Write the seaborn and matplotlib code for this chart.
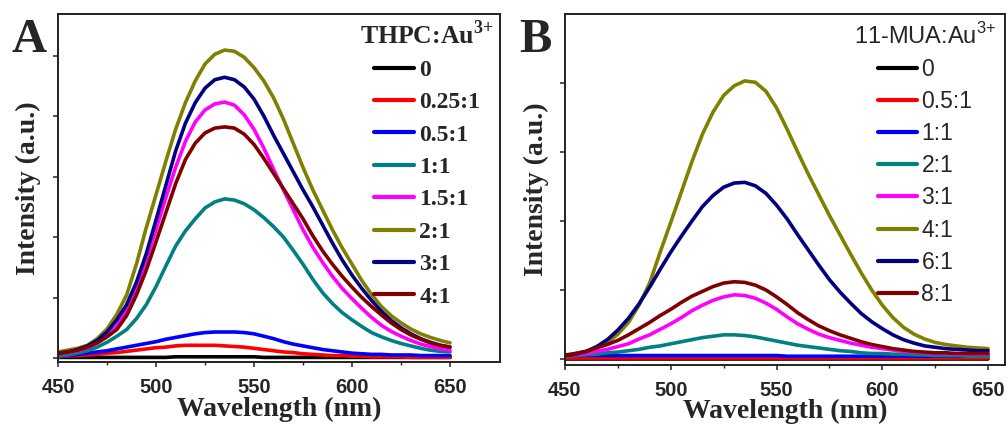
import matplotlib
matplotlib.use('Agg')
import matplotlib.pyplot as plt
import numpy as np
import seaborn as sns
import pandas as pd

# wavelength grid (nm)
wavelength = [450, 455, 460, 465, 470, 475, 480, 485, 490, 495, 500,
              505, 510, 515, 520, 525, 530, 535, 540, 545, 550,
              555, 560, 565, 570, 575, 580, 585, 590, 595, 600,
              605, 610, 615, 620, 625, 630, 635, 640, 645, 650]

# panel A: THPC:Au3+ (tick spacing = 1)
labels_a = ['0', '0.25:1', '0.5:1', '1:1', '1.5:1', '2:1', '3:1', '4:1']
a_0 = [0.01, 0.01, 0.01, 0.01, 0.01, 0.01, 0.01, 0.01, 0.01, 0.01, 0.01,
       0.01, 0.02, 0.02, 0.02, 0.02, 0.02, 0.02, 0.02, 0.02, 0.02,
       0.01, 0.01, 0.01, 0.01, 0.01, 0.01, 0.01, 0.01, 0.01, 0.01,
       0.01, 0.01, 0.01, 0.01, 0.01, 0.01, 0.01, 0.01, 0.01, 0.01]
a_025 = [0.02, 0.03, 0.04, 0.05, 0.06, 0.08, 0.09, 0.11, 0.13, 0.15, 0.17,
         0.18, 0.20, 0.21, 0.21, 0.21, 0.21, 0.20, 0.19, 0.18, 0.16,
         0.14, 0.12, 0.10, 0.09, 0.07, 0.06, 0.05, 0.04, 0.04, 0.03,
         0.03, 0.02, 0.02, 0.02, 0.02, 0.01, 0.01, 0.01, 0.01, 0.01]
a_05 = [0.03, 0.04, 0.06, 0.08, 0.10, 0.12, 0.15, 0.18, 0.21, 0.24, 0.27,
        0.31, 0.34, 0.37, 0.40, 0.42, 0.43, 0.43, 0.43, 0.42, 0.40,
        0.36, 0.32, 0.27, 0.23, 0.20, 0.17, 0.14, 0.12, 0.10, 0.08,
        0.07, 0.06, 0.06, 0.05, 0.05, 0.05, 0.04, 0.04, 0.04, 0.04]
a_1 = [0.03, 0.05, 0.08, 0.12, 0.18, 0.26, 0.36, 0.47, 0.65, 0.88, 1.18,
       1.52, 1.85, 2.10, 2.30, 2.48, 2.58, 2.63, 2.61, 2.55, 2.45,
       2.32, 2.17, 2.00, 1.78, 1.55, 1.30, 1.08, 0.90, 0.75, 0.63,
       0.52, 0.42, 0.35, 0.29, 0.24, 0.20, 0.16, 0.13, 0.11, 0.10]
a_15 = [0.07, 0.09, 0.12, 0.17, 0.25, 0.36, 0.53, 0.80, 1.17, 1.62, 2.12,
        2.65, 3.15, 3.58, 3.90, 4.10, 4.20, 4.23, 4.18, 4.02, 3.78,
        3.47, 3.12, 2.78, 2.45, 2.12, 1.83, 1.58, 1.35, 1.15, 0.98,
        0.82, 0.67, 0.54, 0.44, 0.36, 0.29, 0.23, 0.19, 0.15, 0.13]
a_2 = [0.10, 0.13, 0.16, 0.21, 0.32, 0.48, 0.72, 1.04, 1.55, 2.15, 2.70,
       3.25, 3.78, 4.22, 4.58, 4.86, 5.02, 5.09, 5.07, 4.97, 4.80,
       4.58, 4.30, 3.95, 3.55, 3.15, 2.78, 2.45, 2.12, 1.82, 1.55,
       1.28, 1.05, 0.85, 0.70, 0.58, 0.48, 0.40, 0.34, 0.29, 0.25]
a_3 = [0.08, 0.10, 0.14, 0.20, 0.29, 0.43, 0.63, 0.88, 1.25, 1.72, 2.28,
       2.85, 3.42, 3.88, 4.22, 4.46, 4.60, 4.64, 4.60, 4.48, 4.28,
       4.00, 3.68, 3.38, 3.08, 2.78, 2.50, 2.20, 1.90, 1.62, 1.37,
       1.15, 0.95, 0.77, 0.62, 0.50, 0.40, 0.32, 0.26, 0.21, 0.18]
a_4 = [0.08, 0.10, 0.13, 0.18, 0.25, 0.35, 0.47, 0.70, 1.04, 1.45, 1.92,
       2.40, 2.88, 3.28, 3.55, 3.72, 3.80, 3.82, 3.80, 3.70, 3.53,
       3.30, 3.05, 2.80, 2.55, 2.30, 2.02, 1.77, 1.55, 1.35, 1.17,
       1.00, 0.85, 0.71, 0.58, 0.47, 0.38, 0.31, 0.25, 0.21, 0.18]

# panel B: 11-MUA:Au3+
labels_b = ['0', '0.5:1', '1:1', '2:1', '3:1', '4:1', '6:1', '8:1']
b_0 = [0.00, 0.00, 0.00, 0.00, 0.00, 0.00, 0.00, 0.00, 0.00, 0.00, 0.00,
       0.00, 0.00, 0.00, 0.00, 0.00, 0.00, 0.00, 0.00, 0.00, 0.00,
       0.00, 0.00, 0.00, 0.00, 0.00, 0.00, 0.00, 0.00, 0.00, 0.00,
       0.00, 0.00, 0.00, 0.00, 0.00, 0.00, 0.00, 0.00, 0.00, 0.00]
b_05 = [0.01, 0.01, 0.01, 0.01, 0.01, 0.01, 0.01, 0.01, 0.01, 0.01, 0.01,
        0.01, 0.01, 0.01, 0.01, 0.01, 0.01, 0.01, 0.01, 0.01, 0.01,
        0.01, 0.01, 0.01, 0.01, 0.01, 0.01, 0.01, 0.01, 0.01, 0.01,
        0.01, 0.01, 0.01, 0.01, 0.01, 0.01, 0.01, 0.01, 0.01, 0.01]
b_1 = [0.05, 0.05, 0.05, 0.05, 0.05, 0.05, 0.05, 0.05, 0.05, 0.05, 0.05,
       0.05, 0.05, 0.05, 0.05, 0.05, 0.05, 0.05, 0.05, 0.05, 0.05,
       0.04, 0.04, 0.04, 0.04, 0.04, 0.04, 0.04, 0.04, 0.04, 0.04,
       0.04, 0.04, 0.04, 0.04, 0.04, 0.04, 0.04, 0.04, 0.04, 0.04]
b_2 = [0.04, 0.05, 0.06, 0.07, 0.09, 0.10, 0.12, 0.14, 0.17, 0.19, 0.22,
       0.25, 0.28, 0.31, 0.33, 0.35, 0.35, 0.34, 0.32, 0.29, 0.26,
       0.23, 0.20, 0.18, 0.16, 0.14, 0.12, 0.11, 0.09, 0.08, 0.08,
       0.07, 0.07, 0.06, 0.06, 0.05, 0.05, 0.05, 0.04, 0.04, 0.04]
b_3 = [0.05, 0.06, 0.08, 0.11, 0.14, 0.18, 0.22, 0.29, 0.35, 0.43, 0.51,
       0.60, 0.70, 0.78, 0.85, 0.90, 0.93, 0.92, 0.88, 0.81, 0.72,
       0.61, 0.51, 0.43, 0.36, 0.31, 0.27, 0.23, 0.20, 0.17, 0.15,
       0.13, 0.11, 0.10, 0.09, 0.08, 0.08, 0.07, 0.07, 0.07, 0.07]
b_4 = [0.06, 0.08, 0.11, 0.16, 0.24, 0.36, 0.53, 0.78, 1.10, 1.55, 1.98,
       2.42, 2.86, 3.26, 3.58, 3.82, 3.96, 4.03, 4.01, 3.88, 3.64,
       3.33, 3.00, 2.68, 2.38, 2.08, 1.80, 1.52, 1.25, 1.00, 0.78,
       0.60, 0.46, 0.36, 0.29, 0.24, 0.21, 0.19, 0.17, 0.16, 0.15]
b_6 = [0.05, 0.07, 0.11, 0.18, 0.28, 0.42, 0.59, 0.80, 1.04, 1.30, 1.55,
       1.78, 2.00, 2.21, 2.37, 2.49, 2.55, 2.56, 2.51, 2.40, 2.23,
       2.03, 1.80, 1.58, 1.36, 1.15, 0.97, 0.81, 0.66, 0.54, 0.44,
       0.35, 0.28, 0.23, 0.19, 0.17, 0.15, 0.14, 0.13, 0.12, 0.12]
b_8 = [0.05, 0.08, 0.11, 0.16, 0.21, 0.27, 0.35, 0.44, 0.53, 0.63, 0.72,
       0.82, 0.91, 0.98, 1.05, 1.10, 1.12, 1.11, 1.07, 1.00, 0.90,
       0.79, 0.67, 0.57, 0.48, 0.41, 0.35, 0.30, 0.25, 0.21, 0.18,
       0.15, 0.13, 0.11, 0.10, 0.09, 0.09, 0.08, 0.08, 0.08, 0.08]

colors = ['#000000', '#ff0000', '#0000ff', '#008080', '#ff00ff',
          '#808000', '#000080', '#800000']


def long_df(series, labels):
    rows = []
    for lab, vals in zip(labels, series):
        for w, v in zip(wavelength, vals):
            rows.append((w, v, lab))
    return pd.DataFrame(rows, columns=['wl', 'I', 'ratio'])


df_a = long_df([a_0, a_025, a_05, a_1, a_15, a_2, a_3, a_4], labels_a)
df_b = long_df([b_0, b_05, b_1, b_2, b_3, b_4, b_6, b_8], labels_b)

sns.set_style('ticks')
plt.rcParams['font.family'] = ['Liberation Serif', 'DejaVu Serif']
plt.rcParams['mathtext.fontset'] = 'custom'
plt.rcParams['mathtext.rm'] = 'Liberation Serif'
plt.rcParams['mathtext.bf'] = 'Liberation Serif:bold'
plt.rcParams['mathtext.sf'] = 'Liberation Sans'

fig = plt.figure(figsize=(10.08, 4.30), dpi=100)
ax_a = fig.add_axes([58 / 1008, 68 / 430, 442 / 1008, 348 / 430])
ax_b = fig.add_axes([565 / 1008, 65 / 430, 440 / 1008, 351 / 430])

serif_bold = dict(family='Liberation Serif', weight='bold')

for ax, df, labs, ylim, nt, xmax in [(ax_a, df_a, labels_a, (-0.066, 5.686), 6, 675.5),
                                     (ax_b, df_b, labels_b, (-0.087, 5.0), 5, 658)]:
    sns.lineplot(data=df, x='wl', y='I', hue='ratio', hue_order=labs,
                 palette=colors, lw=2.6, estimator=None, ax=ax)
    ax.set_xlim(450, xmax)
    ax.set_ylim(*ylim)
    ax.set_xticks([450, 500, 550, 600, 650])
    ax.set_xticks([475, 525, 575, 625], minor=True)
    ax.set_yticks(list(range(nt)))
    ax.set_yticklabels([])
    ax.tick_params(axis='both', which='major', direction='out', length=3.6,
                   width=1.1, color='#222222', pad=8)
    ax.tick_params(axis='x', which='minor', direction='out', length=2.2,
                   width=1.0, color='#222222')
    for lab in ax.get_xticklabels():
        lab.set_fontfamily('Liberation Sans')
        lab.set_fontweight('bold')
        lab.set_fontsize(14.5)
    for sp in ax.spines.values():
        sp.set_visible(True)
        sp.set_linewidth(1.4)
        sp.set_color('#222222')
    ax.set_xlabel('Wavelength (nm)', fontsize=20, **serif_bold)
    ax.set_ylabel('Intensity (a.u.)', fontsize=20, **serif_bold)

ax_a.xaxis.set_label_coords(0.5, -0.1)
ax_b.xaxis.set_label_coords(0.5, -0.095)
ax_a.yaxis.set_label_coords(-0.038, 0.5)
ax_b.yaxis.set_label_coords(-0.036, 0.5)

# legends
leg = ax_a.get_legend()
handles = leg.legend_handles
ax_a.legend(handles, labels_a, title=r'THPC:Au$^{\mathbf{3{+}}}$', frameon=False,
            loc='upper right', bbox_to_anchor=(1.0, 1.0), borderaxespad=0.15,
            borderpad=0.1, handlelength=1.7, handletextpad=0.2, labelspacing=0.46,
            prop=dict(family='Liberation Serif', weight='bold', size=17),
            title_fontproperties=dict(family='Liberation Serif', weight='bold', size=18.5))
leg = ax_b.get_legend()
handles = leg.legend_handles
ax_b.legend(handles, labels_b, title=r'11-MUA:Au$^{\mathsf{3{+}}}$', frameon=False,
            loc='upper right', bbox_to_anchor=(1.0, 1.0), borderaxespad=0.28,
            borderpad=0.1, handlelength=1.7, handletextpad=0.2, labelspacing=0.4,
            prop=dict(family='Liberation Sans', size=16.5),
            title_fontproperties=dict(family='Liberation Sans', size=17))
for lg in [ax_a.get_legend(), ax_b.get_legend()]:
    for h in lg.legend_handles:
        h.set_linewidth(3.0)

fig.text(12 / 1008, 1 - 52 / 430, 'A', fontsize=35, va='baseline', **serif_bold)
fig.text(519 / 1008, 1 - 52 / 430, 'B', fontsize=35, va='baseline', **serif_bold)

fig.savefig('out.png', dpi=100)
